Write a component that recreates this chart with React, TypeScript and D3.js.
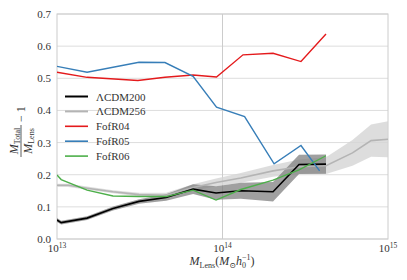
import React from "react";
import * as d3 from "d3";

// ---- data ----
const blackMass = [1.0e13, 1.06e13, 1.52e13, 2.18e13, 3.13e13, 4.56e13, 6.64e13, 9.14e13, 1.29e14, 2.02e14, 2.9e14, 4.22e14];
const lcdm200 = [0.059, 0.051, 0.065, 0.095, 0.117, 0.129, 0.155, 0.143, 0.15, 0.147, 0.232, 0.233];
const lcdm200Err = [0.006, 0.006, 0.006, 0.006, 0.007, 0.01, 0.015, 0.021, 0.025, 0.03, 0.03, 0.03];

const grayMass = [1.0e13, 1.17e13, 1.52e13, 2.18e13, 3.13e13, 4.56e13, 6.64e13, 9.14e13, 1.29e14, 2.02e14, 2.9e14, 4.22e14, 6.1e14, 7.9e14, 1.16e15];
const lcdm256 = [0.167, 0.167, 0.158, 0.147, 0.138, 0.136, 0.16, 0.176, 0.19, 0.212, 0.225, 0.228, 0.268, 0.306, 0.313];
const lcdm256Err = [0.005, 0.005, 0.005, 0.005, 0.006, 0.008, 0.01, 0.012, 0.015, 0.018, 0.022, 0.026, 0.04, 0.05, 0.06];

const redMass = [1.0e13, 1.52e13, 3.08e13, 4.49e13, 6.64e13, 9.2e13, 1.33e14, 2.02e14, 2.98e14, 4.22e14];
const fofR04 = [0.519, 0.503, 0.493, 0.503, 0.51, 0.504, 0.573, 0.578, 0.552, 0.638];

const blueMass = [1.0e13, 1.52e13, 3.13e13, 4.49e13, 6.64e13, 9.2e13, 1.36e14, 2.05e14, 2.98e14, 3.86e14];
const fofR05 = [0.537, 0.519, 0.55, 0.549, 0.506, 0.41, 0.381, 0.234, 0.291, 0.212];

const greenMass = blackMass;
const fofR06 = [0.199, 0.185, 0.152, 0.134, 0.132, 0.132, 0.152, 0.121, 0.154, 0.183, 0.215, 0.259];

const yTicks = [0.0, 0.1, 0.2, 0.3, 0.4, 0.5, 0.6, 0.7];
const xTicks = [1e13, 1e14, 1e15];
const xTickExp = ["13", "14", "15"];
const legendLabels = ["ΛCDM200", "ΛCDM256", "FofR04", "FofR05", "FofR06"];
const legendColors = ["#000000", "#b4b4b4", "#e41a1c", "#377eb8", "#4daf4a"];

const FONT = "Liberation Serif, DejaVu Serif, serif";

export default function App() {
  const L = 57, R = 388, T = 14, B = 239;
  const x = d3.scaleLog().domain([1e13, 1e15]).range([L, R]);
  const y = d3.scaleLinear().domain([0, 0.7]).range([B, T]);

  const line = (ms: number[], vs: number[]) =>
    d3.line<number>().x((_, i) => x(ms[i])).y((v) => y(v))(vs) || "";
  const band = (ms: number[], vs: number[], es: number[]) =>
    d3
      .area<number>()
      .x((_, i) => x(ms[i]))
      .y0((v, i) => y(v - es[i]))
      .y1((v, i) => y(v + es[i]))(vs) || "";

  return (
    <svg width={407} height={280} style={{ position: "absolute", left: 0, top: 0, background: "#fff", fontFamily: FONT }}>
      <defs>
        <clipPath id="plot">
          <rect x={L} y={T} width={R - L} height={B - T} />
        </clipPath>
      </defs>
      {/* grid */}
      {yTicks.map((t) => (
        <line key={t} x1={L} x2={R} y1={y(t)} y2={y(t)} stroke="#dddddd" strokeWidth={1} />
      ))}
      <line x1={x(1e14)} x2={x(1e14)} y1={T} y2={B} stroke="#cccccc" strokeWidth={1} />
      <rect x={L} y={T} width={R - L} height={B - T} fill="none" stroke="#cccccc" strokeWidth={1} />

      <g clipPath="url(#plot)">
        <path d={band(grayMass, lcdm256, lcdm256Err)} fill="#d4d4d4" fillOpacity={0.8} />
        <path d={band(blackMass, lcdm200, lcdm200Err)} fill="#808080" fillOpacity={0.75} />
        <path d={line(grayMass, lcdm256)} fill="none" stroke="#b4b4b4" strokeWidth={1.6} />
        <path d={line(blackMass, lcdm200)} fill="none" stroke="#000" strokeWidth={1.6} />
        <path d={line(redMass, fofR04)} fill="none" stroke="#e41a1c" strokeWidth={1.4} />
        <path d={line(blueMass, fofR05)} fill="none" stroke="#377eb8" strokeWidth={1.4} />
        <path d={line(greenMass, fofR06)} fill="none" stroke="#4daf4a" strokeWidth={1.4} />
      </g>

      {/* y tick labels */}
      {yTicks.map((t) => (
        <text key={t} x={51} y={y(t) + 4} textAnchor="end" fontSize={11} fill="#333">
          {t.toFixed(1)}
        </text>
      ))}
      {/* x tick labels */}
      {xTicks.map((t, i) => (
        <text key={t} x={x(t)} y={252} textAnchor="middle" fontSize={11} fill="#333">
          10<tspan fontSize={7.5} dy={-4}>{xTickExp[i]}</tspan>
        </text>
      ))}

      {/* x label */}
      <text x={222} y={265} textAnchor="middle" fontSize={12} fill="#333">
        <tspan fontStyle="italic">M</tspan>
        <tspan fontSize={8} dy={3}>Lens</tspan>
        <tspan dy={-3}>(</tspan>
        <tspan fontStyle="italic">M</tspan>
        <tspan fontSize={8} dy={3}>⊙</tspan>
        <tspan dy={-3} fontStyle="italic">h</tspan>
        <tspan fontSize={8} dy={3}>0</tspan>
        <tspan fontSize={8} dx={-4} dy={-8}>−1</tspan>
        <tspan dy={5}>)</tspan>
      </text>

      {/* y label */}
      <g transform="translate(21,131) rotate(-90)" fill="#333">
        <text x={-10} y={-3} textAnchor="middle" fontSize={12}>
          <tspan fontStyle="italic">M</tspan>
          <tspan fontSize={8} dy={2}>Total</tspan>
        </text>
        <line x1={-26} x2={6} y1={0} y2={0} stroke="#333" strokeWidth={0.8} />
        <text x={-10} y={11} textAnchor="middle" fontSize={12}>
          <tspan fontStyle="italic">M</tspan>
          <tspan fontSize={8} dy={2}>Lens</tspan>
        </text>
        <text x={9} y={4} fontSize={12}>− 1</text>
      </g>

      {/* legend */}
      {legendLabels.map((lab, i) => {
        const ly = 96.5 + i * 14.9;
        return (
          <g key={lab}>
            <line x1={65} x2={88} y1={ly} y2={ly} stroke={legendColors[i]} strokeWidth={i < 2 ? 2 : 1.6} />
            <text x={96} y={ly + 4} fontSize={11} fill="#333">
              {lab}
            </text>
          </g>
        );
      })}
    </svg>
  );
}
